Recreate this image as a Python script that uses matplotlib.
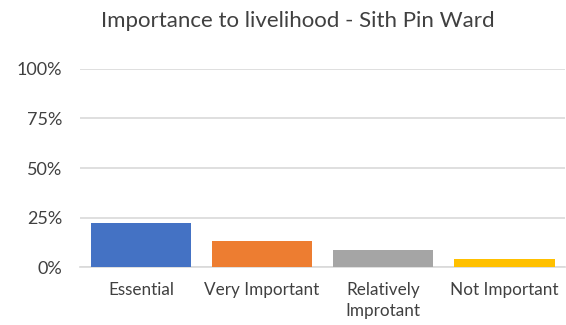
import matplotlib
matplotlib.use("Agg")
import matplotlib.pyplot as plt
from matplotlib.ticker import FixedLocator

categories = ["Essential", "Very Important", "Relatively\nImprotant", "Not Important"]
values = [0.223, 0.132, 0.086, 0.040]
colors = ["#4472C4", "#ED7D31", "#A5A5A5", "#FFC000"]
yticks = [0, 0.25, 0.5, 0.75, 1.0]
ytick_labels = ["0%", "25%", "50%", "75%", "100%"]
title = "Importance to livelihood - Sith Pin Ward"

plt.rcParams['font.family'] = ['Lato', 'DejaVu Sans']

fig = plt.figure(figsize=(5.66, 3.25), dpi=100)
ax = fig.add_axes([0.142, 0.178, 0.856, 0.61])

x = range(len(categories))
ax.bar(x, values, width=0.83, color=colors, zorder=3)
ax.set_xlim(-0.5, len(categories) - 0.5)
ax.set_ylim(0, 1.0)
ax.yaxis.set_major_locator(FixedLocator(yticks))
ax.set_yticklabels(ytick_labels)
ax.set_xticks(list(x))
ax.set_xticklabels(categories)
ax.grid(axis='y', color='#D9D9D9', linewidth=1.2, zorder=0)
for s in ['top', 'right', 'left']:
    ax.spines[s].set_visible(False)
ax.spines['bottom'].set_color('#D9D9D9')
ax.spines['bottom'].set_linewidth(1.2)
ax.tick_params(axis='both', length=0, colors='#404040')
ax.tick_params(axis='y', pad=13, labelsize=13)
ax.tick_params(axis='x', pad=11, labelsize=12.3)
for lbl in ax.get_xticklabels():
    lbl.set_linespacing(1.35)
    lbl.set_verticalalignment('top')

fig.text(0.526, 0.935, title, ha='center', va='center', fontsize=16, color='#404040')

fig.savefig("out.png", dpi=100)
